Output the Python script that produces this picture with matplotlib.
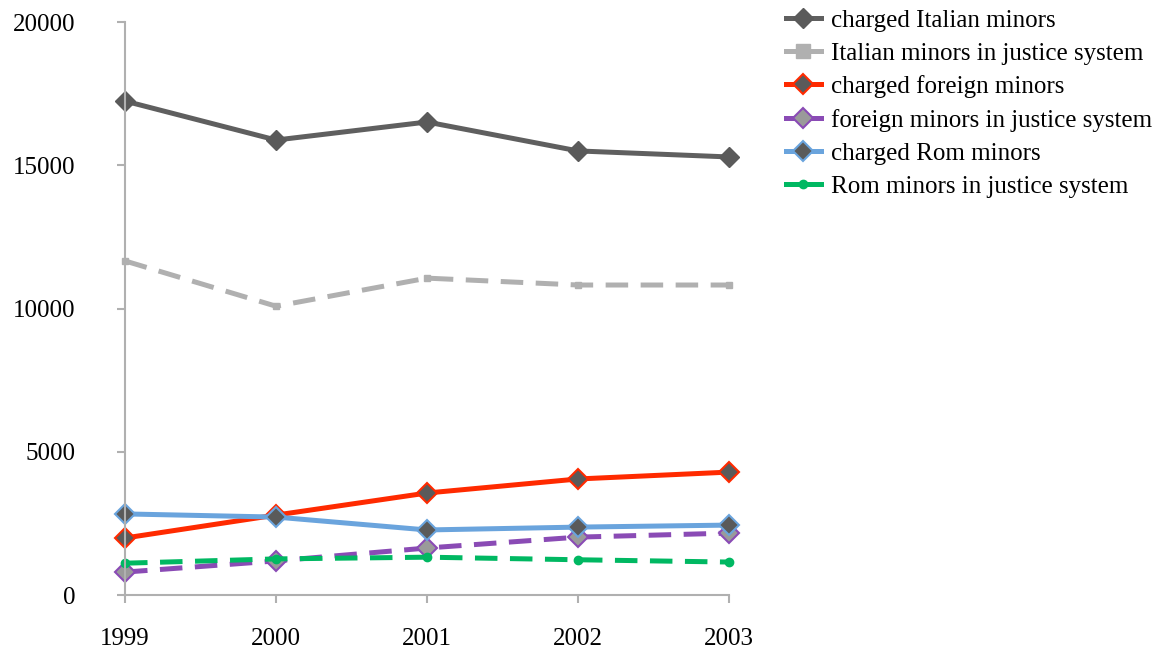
import matplotlib
matplotlib.use('Agg')
import matplotlib.pyplot as plt

plt.rcParams['font.family'] = ['Liberation Serif', 'DejaVu Serif']

# Daten
years = [1999, 2000, 2001, 2002, 2003]
charged_italian = [17240, 15880, 16510, 15500, 15290]
italian_justice = [11660, 10080, 11060, 10820, 10820]
charged_foreign = [1990, 2790, 3560, 4050, 4290]
foreign_justice = [800, 1190, 1640, 2020, 2160]
charged_rom = [2830, 2720, 2270, 2370, 2440]
rom_justice = [1110, 1260, 1320, 1230, 1150]

fig = plt.figure(figsize=(11.73, 6.55), dpi=100)
ax = fig.add_axes([0.1066, 0.0916, 0.5149, 0.8748])

lw = 3.6
dash = (4.5, 2.5)

ax.plot(years, charged_italian, color='#5f5f5f', lw=lw, marker='D', ms=10,
        mfc='#5a5a5a', mec='#5a5a5a', label='charged Italian minors', clip_on=False)
ax.plot(years, italian_justice, color='#b0b0b0', lw=lw, dashes=dash, marker='s', ms=5,
        mfc='#b0b0b0', mec='#b0b0b0', label='Italian minors in justice system', clip_on=False)
ax.plot(years, charged_foreign, color='#ff2a00', lw=lw, marker='D', ms=10,
        mfc='#5a5a5a', mec='#ff2a00', mew=1.5, label='charged foreign minors', clip_on=False)
ax.plot(years, foreign_justice, color='#8a4bb5', lw=lw, dashes=dash, marker='D', ms=10,
        mfc='#9a9a9a', mec='#8a4bb5', mew=1.5, label='foreign minors in justice system', clip_on=False)
ax.plot(years, charged_rom, color='#6aa4dd', lw=lw, marker='D', ms=10,
        mfc='#5a5a5a', mec='#6aa4dd', mew=1.5, label='charged Rom minors', clip_on=False)
ax.plot(years, rom_justice, color='#00b862', lw=lw, dashes=dash, marker='o', ms=6,
        mfc='#00b862', mec='#00b862', label='Rom minors in justice system', clip_on=False)

ax.set_xlim(1999, 2003)
ax.set_ylim(0, 20000)
ax.set_xticks(years)
ax.set_yticks([0, 5000, 10000, 15000, 20000])

for s in ['top', 'right']:
    ax.spines[s].set_visible(False)
for s in ['left', 'bottom']:
    ax.spines[s].set_color('#b0b0b0')
    ax.spines[s].set_linewidth(1.5)
ax.tick_params(axis='both', colors='#b0b0b0', width=1.5, length=6, labelsize=18,
               labelcolor='black')
ax.tick_params(axis='x', pad=18)
ax.tick_params(axis='y', pad=30)

leg = ax.legend(loc='upper left', bbox_to_anchor=(1.077, 1.04), frameon=False,
                fontsize=18, handlelength=1.4, handletextpad=0.4, labelspacing=0.42,
                borderaxespad=0)
for h in leg.get_lines():
    h.set_linestyle('-')
    if h.get_marker() == 's':
        h.set_markersize(10)

fig.savefig('out.png', dpi=100)
